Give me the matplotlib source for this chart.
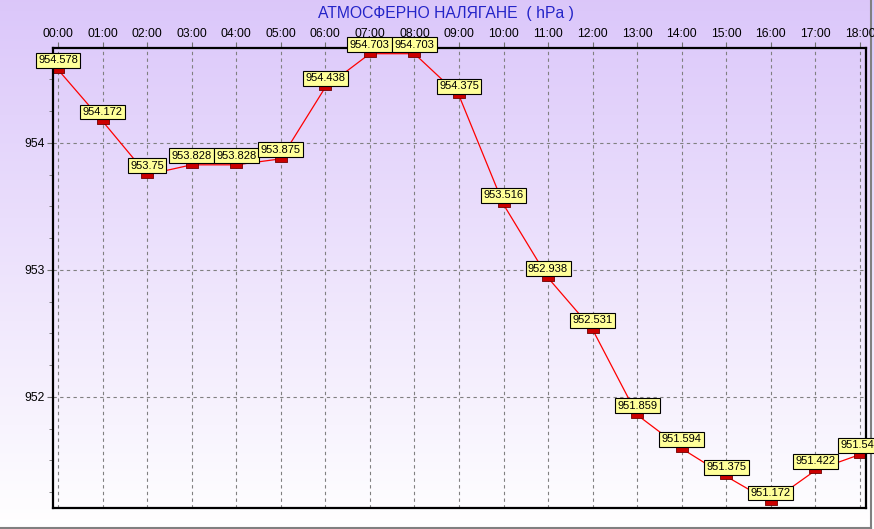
import numpy as np
import matplotlib.pyplot as plt
from matplotlib.path import Path
from matplotlib.ticker import MultipleLocator

hours = ["00:00", "01:00", "02:00", "03:00", "04:00", "05:00", "06:00", "07:00", "08:00", "09:00",
         "10:00", "11:00", "12:00", "13:00", "14:00", "15:00", "16:00", "17:00", "18:00"]
pressure = [954.578, 954.172, 953.75, 953.828, 953.828, 953.875, 954.438, 954.703, 954.703, 954.375,
            953.516, 952.938, 952.531, 951.859, 951.594, 951.375, 951.172, 951.422, 951.547]
labels = ["954.578", "954.172", "953.75", "953.828", "953.828", "953.875", "954.438", "954.703", "954.703",
          "954.375", "953.516", "952.938", "952.531", "951.859", "951.594", "951.375", "951.172", "951.422",
          "951.547"]
y_ticks = [952, 953, 954]

plt.rcParams['font.family'] = ['Liberation Sans', 'DejaVu Sans']

fig = plt.figure(figsize=(8.74, 5.29), dpi=100)

# gradient background over the whole figure
bg = fig.add_axes([0, 0, 1, 1], zorder=-10)
g = np.linspace(0, 1, 256)[:, None]
top = np.array([0.86, 0.78, 0.98])
bot = np.array([1.0, 1.0, 1.0])
img = top[None, None, :] * (1 - g[..., None]) + bot[None, None, :] * g[..., None]
bg.imshow(img, aspect='auto', extent=[0, 1, 0, 1], origin='upper')
bg.set_xlim(0, 1)
bg.set_ylim(0, 1)
bg.axis('off')
# sunken frame lines bottom/right
bg.plot([0, 0.9966], [0.002, 0.002], color='#808080', lw=1.5)
bg.plot([0.9966, 0.9966], [0.002, 1], color='#808080', lw=1.5)

ax = fig.add_axes([0.0606, 0.0397, 0.9302, 0.8696])
ax.set_facecolor('none')

x = np.arange(len(hours))
rect = Path([(-1, -0.6), (1, -0.6), (1, 0.6), (-1, 0.6), (-1, -0.6)],
            [Path.MOVETO, Path.LINETO, Path.LINETO, Path.LINETO, Path.CLOSEPOLY])
ax.plot(x, pressure, color='red', lw=0.9, zorder=3)
ax.plot(x, pressure, ls='none', marker=rect, markersize=8, markerfacecolor='#cc0000',
        markeredgecolor='#700000', markeredgewidth=0.6, zorder=4)

for xi, yi, lab in zip(x, pressure, labels):
    ax.annotate(lab, (xi, yi), xytext=(0, 3), textcoords='offset points', ha='center', va='bottom',
                fontsize=8, zorder=6, annotation_clip=False,
                bbox=dict(boxstyle='square,pad=0.22', fc='#ffff99', ec='black', lw=0.8))

ax.set_xlim(-0.112, 18.135)
ax.set_ylim(951.126, 954.748)
ax.set_xticks(x)
ax.set_xticklabels(hours)
ax.xaxis.tick_top()
ax.set_yticks(y_ticks)
ax.set_yticklabels([str(v) for v in y_ticks])
ax.yaxis.set_minor_locator(MultipleLocator(0.25))
ax.tick_params(axis='both', labelsize=8.7, length=4, color='#707070', pad=2)
ax.tick_params(axis='y', which='minor', length=3, color='#707070')
ax.grid(True, ls=(0, (3, 3)), color='#808080', lw=0.8)
for s in ax.spines.values():
    s.set_linewidth(1.6)
    s.set_color('black')
    s.set_zorder(5)

fig.text(0.51, 0.974, "АТМОСФЕРНО НАЛЯГАНЕ  ( hPa )", ha='center', va='center', fontsize=11.3,
         color='#2424c8')

fig.savefig('out.png', dpi=100)
